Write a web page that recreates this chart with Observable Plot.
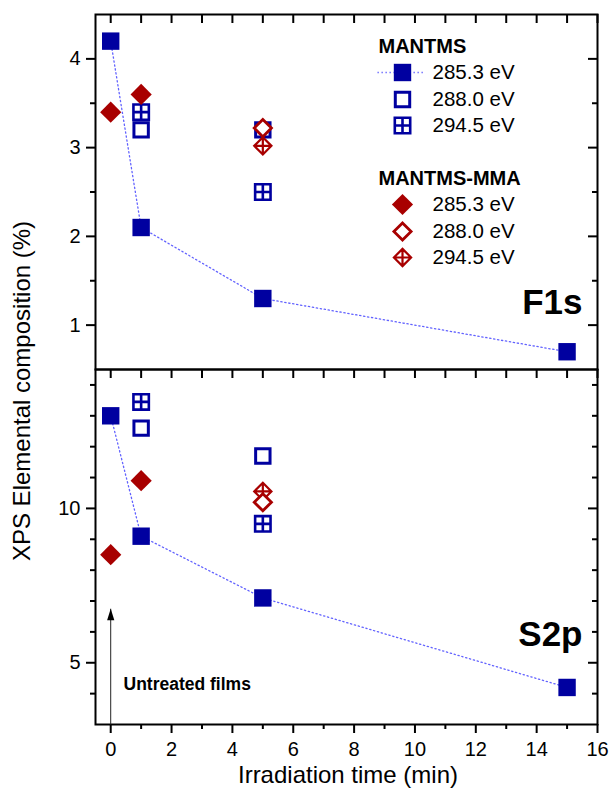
<!DOCTYPE html>
<html>
<head>
<meta charset="utf-8">
<script src="https://cdn.jsdelivr.net/npm/d3@7"></script>
<script src="https://cdn.jsdelivr.net/npm/@observablehq/plot@0.6"></script>
<style>
  body { margin: 0; background: #fff; }
  #wrap { position: relative; width: 610px; height: 792px; overflow: hidden; background: #fff;
          font-family: "Liberation Sans", Arial, Helvetica, sans-serif; color: #000; }
  #wrap svg { display: block; }
  #ylab { position: absolute; left: 22px; top: 391px; line-height: 24px; font-size: 24px; white-space: nowrap;
          transform: translate(-50%, -50%) rotate(-90deg); }
  #xlab { position: absolute; left: 348px; top: 763px; line-height: 24px; font-size: 24px; white-space: nowrap;
          transform: translateX(-50%); }
</style>
</head>
<body>
<div id="wrap">
  <div id="top"></div>
  <div id="bottom"></div>
  <div id="ylab">XPS Elemental composition (%)</div>
  <div id="xlab">Irradiation time (min)</div>
</div>
<script>
// ---------------- DATA ----------------
const panelNames = ["F1s", "S2p"];
const timesMantms285 = [0, 1, 5, 15];
const timesMantms288 = [1, 5];
const timesMantms294 = [1, 5];
const timesMma285 = [0, 1];
const timesMma288 = [5];
const timesMma294 = [5];

// F1s (%)
const f1sMantms285 = [4.2, 2.1, 1.3, 0.7];
const f1sMantms288 = [3.2, 3.2];
const f1sMantms294 = [3.4, 2.5];
const f1sMma285 = [3.4, 3.6];
const f1sMma288 = [3.22];
const f1sMma294 = [3.02];

// S2p (%)
const s2pMantms285 = [13.0, 9.1, 7.1, 4.2];
const s2pMantms288 = [12.6, 11.7];
const s2pMantms294 = [13.45, 9.5];
const s2pMma285 = [8.5, 10.9];
const s2pMma288 = [10.2];
const s2pMma294 = [10.55];

// ticks
const xTicksMajor = [0, 2, 4, 6, 8, 10, 12, 14, 16];
const xTicksMinor = [1, 3, 5, 7, 9, 11, 13, 15];
const f1sTicksMajor = [1, 2, 3, 4];
const f1sTicksMinor = [1.5, 2.5, 3.5];
const s2pTicksMajor = [5, 10];
const s2pTicksMinor = [4, 6, 7, 8, 9, 11, 12, 13, 14];

// legend / annotation text
const legendTitles = ["MANTMS", "MANTMS-MMA"];
const legendEnergies = ["285.3 eV", "288.0 eV", "294.5 eV"];
const annotationText = "Untreated films";
const arrowData = [{x: 0, y1: 3, y2: 6.75}];
const annotationPos = [{x: 0.42, y: 4.3}];

// ---------------- STYLE ----------------
const W = 610, ML = 95, MR = 13;
const blue = "#0000a0", red = "#a80000", lineBlue = "#6262ff";
const FONT = "'Liberation Sans', Arial, Helvetica, sans-serif";

const rad = (size) => Math.sqrt(size / Math.PI);
const symSquare = {draw(c, s) { const r = rad(s); c.rect(-r, -r, 2 * r, 2 * r); }};
const symBoxPlus = {draw(c, s) { const r = rad(s); c.rect(-r, -r, 2 * r, 2 * r);
  c.moveTo(-r, 0); c.lineTo(r, 0); c.moveTo(0, -r); c.lineTo(0, r); }};
const symDiamond = {draw(c, s) { const r = rad(s); c.moveTo(0, -r); c.lineTo(r, 0); c.lineTo(0, r); c.lineTo(-r, 0); c.closePath(); }};
const symDiamondCross = {draw(c, s) { const r = rad(s); c.moveTo(0, -r); c.lineTo(r, 0); c.lineTo(0, r); c.lineTo(-r, 0); c.closePath();
  c.moveTo(-r, 0); c.lineTo(r, 0); c.moveTo(0, -r); c.lineTo(0, r); }};
const symArrowHead = {draw(c, s) { c.moveTo(0, 0); c.lineTo(-3.6, 11.5); c.lineTo(3.6, 11.5); c.closePath(); }};
const symLegendLine = {draw(c, s) { c.moveTo(-23, 0); c.lineTo(23, 0); }};

const sty = {
  m285: {symbol: symSquare, r: 8.7, fill: blue, stroke: "none"},
  m288: {symbol: symSquare, r: 7.2, fill: "white", stroke: blue, strokeWidth: 3},
  m294: {symbol: symBoxPlus, r: 7.7, fill: "white", stroke: blue, strokeWidth: 2.6},
  a285: {symbol: symDiamond, r: 10.6, fill: red, stroke: "none"},
  a288: {symbol: symDiamond, r: 8.6, fill: "white", stroke: red, strokeWidth: 2.8},
  a294: {symbol: symDiamondCross, r: 8.6, fill: "none", stroke: red, strokeWidth: 2.2}
};

const pts = (xs, ys) => xs.map((x, i) => ({x, y: ys[i]}));

function makePanel(cfg) {
  const fh = cfg.height - cfg.marginTop - cfg.marginBottom;
  const fw = W - ML - MR;
  const tickStyle = {stroke: "black", strokeWidth: 2};
  const marks = [
    Plot.line(pts(timesMantms285, cfg.s.m285), {x: "x", y: "y", stroke: lineBlue, strokeWidth: 1.3, strokeDasharray: "1.3,2.7"}),
    Plot.dot(pts(timesMantms294, cfg.s.m294), {x: "x", y: "y", ...sty.m294}),
    Plot.dot(pts(timesMantms288, cfg.s.m288), {x: "x", y: "y", ...sty.m288}),
    Plot.dot(pts(timesMantms285, cfg.s.m285), {x: "x", y: "y", ...sty.m285}),
    Plot.dot(pts(timesMma294, cfg.s.a294), {x: "x", y: "y", ...sty.a294}),
    Plot.dot(pts(timesMma288, cfg.s.a288), {x: "x", y: "y", ...sty.a288}),
    Plot.dot(pts(timesMma285, cfg.s.a285), {x: "x", y: "y", ...sty.a285}),
    Plot.frame({stroke: "black", strokeWidth: 2}),
    Plot.axisY(cfg.yMajor, {anchor: "left", tickSize: 9, tickPadding: 6, fontSize: 20, strokeWidth: 2, label: null, tickFormat: (d) => String(d)}),
    Plot.axisY(cfg.yMinor, {anchor: "left", tickSize: 5, strokeWidth: 2, label: null, tickFormat: () => ""}),
    Plot.tickY(cfg.yMajor, {insetLeft: fw - 9, ...tickStyle}),
    Plot.tickY(cfg.yMinor, {insetLeft: fw - 5, ...tickStyle}),
    Plot.tickX(xTicksMajor, {insetBottom: fh - 9, ...tickStyle}),
    Plot.tickX(xTicksMinor, {insetBottom: fh - 9, ...tickStyle}),
    Plot.text([cfg.name], {text: (d) => d, frameAnchor: "bottom-right", dx: -15, dy: cfg.labelDy, textAnchor: "end",
      lineAnchor: "bottom", fontSize: 35, fontWeight: "bold"})
  ];
  if (cfg.bottomAxis) {
    marks.push(
      Plot.axisX(xTicksMajor, {anchor: "bottom", tickSize: 9, tickPadding: 8, fontSize: 20, strokeWidth: 2, label: null, tickFormat: (d) => String(d)}),
      Plot.axisX(xTicksMinor, {anchor: "bottom", tickSize: 5, strokeWidth: 2, label: null, tickFormat: () => ""})
    );
  }
  if (cfg.extra) marks.push(...cfg.extra);
  return Plot.plot({
    width: W, height: cfg.height,
    marginLeft: ML, marginRight: MR, marginTop: cfg.marginTop, marginBottom: cfg.marginBottom,
    style: {fontFamily: FONT, fontSize: "20px", color: "black", background: "white", overflow: "visible"},
    x: {domain: [-0.5, 16], axis: cfg.bottomAxis ? undefined : null},
    y: {domain: cfg.yDomain},
    marks
  });
}

const MT_TOP = 14;
const at = (px, py) => ({frameAnchor: "top-left", dx: px - ML, dy: py - MT_TOP});
const legendMarks = [];
legendMarks.push(Plot.text([legendTitles[0]], {text: (d) => d, ...at(378, 46), textAnchor: "start", lineAnchor: "middle", fontWeight: "bold", fontSize: 20}));
legendMarks.push(Plot.text([legendTitles[1]], {text: (d) => d, ...at(378, 178), textAnchor: "start", lineAnchor: "middle", fontWeight: "bold", fontSize: 20}));
legendMarks.push(Plot.dot([0], {...at(400, 72), symbol: symLegendLine, r: 1, stroke: lineBlue, strokeWidth: 1.3, strokeDasharray: "1.3,2.7", fill: "none"}));
const legendRows = [
  {y: 72, st: sty.m285, t: legendEnergies[0]},
  {y: 99, st: sty.m288, t: legendEnergies[1]},
  {y: 125, st: sty.m294, t: legendEnergies[2]},
  {y: 204, st: sty.a285, t: legendEnergies[0]},
  {y: 231, st: sty.a288, t: legendEnergies[1]},
  {y: 257, st: sty.a294, t: legendEnergies[2]}
];
for (const row of legendRows) {
  legendMarks.push(Plot.dot([0], {...at(402, row.y), ...row.st}));
  legendMarks.push(Plot.text([row.t], {text: (d) => d, ...at(432, row.y), textAnchor: "start", lineAnchor: "middle", fontSize: 20.5}));
}

const topChart = makePanel({
  name: panelNames[0], height: 369, marginTop: MT_TOP, marginBottom: 0,
  yDomain: [0.5, 4.5], yMajor: f1sTicksMajor, yMinor: f1sTicksMinor, labelDy: -56,
  s: {m285: f1sMantms285, m288: f1sMantms288, m294: f1sMantms294, a285: f1sMma285, a288: f1sMma288, a294: f1sMma294},
  bottomAxis: false, extra: legendMarks
});

const bottomExtra = [
  Plot.link(arrowData, {x1: "x", x2: "x", y1: "y1", y2: "y2", stroke: "#222", strokeWidth: 1}),
  Plot.dot(arrowData, {x: "x", y: "y2", symbol: symArrowHead, r: 1, fill: "black", stroke: "none"}),
  Plot.text(annotationPos, {x: "x", y: "y", text: () => annotationText, textAnchor: "start", lineAnchor: "middle", fontWeight: "bold", fontSize: 17.5})
];

const bottomChart = makePanel({
  name: panelNames[1], height: 423, marginTop: 0, marginBottom: 68,
  yDomain: [3, 14.5], yMajor: s2pTicksMajor, yMinor: s2pTicksMinor, labelDy: -79,
  s: {m285: s2pMantms285, m288: s2pMantms288, m294: s2pMantms294, a285: s2pMma285, a288: s2pMma288, a294: s2pMma294},
  bottomAxis: true, extra: bottomExtra
});

document.getElementById("top").appendChild(topChart);
document.getElementById("bottom").appendChild(bottomChart);
</script>
</body>
</html>
